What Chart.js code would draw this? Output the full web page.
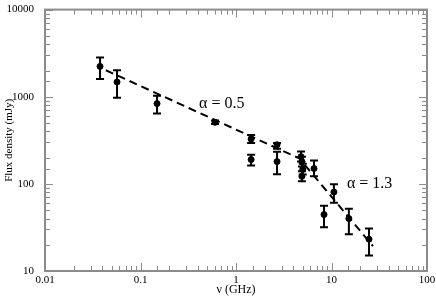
<!DOCTYPE html>
<html>
<head>
<meta charset="utf-8">
<script src="https://cdn.jsdelivr.net/npm/chart.js@4.4.1/dist/chart.umd.min.js"></script>
<style>
  body { margin: 0; background: #fff; }
  canvas { display: block; }
</style>
</head>
<body>
<canvas id="myChart" width="436" height="297"></canvas>
<script>
// measured points (GHz, mJy) with upper / lower error values
const freq  = [0.0377, 0.0568, 0.149, 0.603, 1.44, 1.44, 2.69, 2.69, 4.8, 4.9, 5.0, 4.9, 6.56, 10.6, 8.35, 15.2, 24.7];
const flux  = [2230, 1475, 834, 509, 327, 190, 281, 180, 205, 180, 147, 122, 150, 80.5, 44.4, 40, 23.2];
const fluxHi = [2820, 2015, 1026, 535, 363, 216, 295, 234, 235, 205, 170, 140, 185, 99, 56, 51.9, 30.8];
const fluxLo = [1600, 975, 643, 485, 295, 163, 253, 129, 180, 158, 128, 107, 122, 60.6, 31.7, 26.4, 15.1];

// broken power law fit (dashed)
const fitFreq = [0.0434, 4.6, 27.2];
const fitFlux = [2014, 196, 19.3];

// slope labels
const slopeText = ['\u03B1 = 0.5', '\u03B1 = 1.3'];
const slopeFreq = [0.41, 14.5];
const slopeFlux = [834, 99];

const serif = "'Liberation Serif', 'DejaVu Serif', serif";
const axisGray = '#8c8c8c';

function isDecade(v) {
    const l = Math.log10(v);
    return Math.abs(l - Math.round(l)) < 1e-6;
}

// error bars, tick marks on all four sides, slope labels
const extras = {
    id: 'extras',
    afterDatasetsDraw(chart) {
        const ctx = chart.ctx;
        const xs = chart.scales.x, ys = chart.scales.y;
        ctx.save();
        ctx.strokeStyle = '#000';
        ctx.lineWidth = 2;
        for (let i = 0; i < freq.length; i++) {
            const px = xs.getPixelForValue(freq[i]);
            const top = ys.getPixelForValue(fluxHi[i]);
            const bot = ys.getPixelForValue(fluxLo[i]);
            ctx.beginPath();
            ctx.moveTo(px, top); ctx.lineTo(px, bot);
            ctx.moveTo(px - 4, top); ctx.lineTo(px + 4, top);
            ctx.moveTo(px - 4, bot); ctx.lineTo(px + 4, bot);
            ctx.stroke();
        }
        ctx.fillStyle = '#000';
        ctx.font = '16px ' + serif;
        ctx.textBaseline = 'middle';
        ctx.textAlign = 'left';
        slopeText.forEach((t, i) => {
            ctx.fillText(t, xs.getPixelForValue(slopeFreq[i]), ys.getPixelForValue(slopeFlux[i]));
        });
        ctx.restore();
    },
    afterDraw(chart) {
        const ctx = chart.ctx;
        const a = chart.chartArea;
        const xs = chart.scales.x, ys = chart.scales.y;
        ctx.save();
        ctx.strokeStyle = axisGray;
        ctx.lineWidth = 1;
        ctx.beginPath();
        xs.ticks.forEach(t => {
            const px = Math.round(xs.getPixelForValue(t.value)) + 0.5;
            const len = isDecade(t.value) ? 8 : 5;
            ctx.moveTo(px, a.bottom); ctx.lineTo(px, a.bottom - len);
            ctx.moveTo(px, a.top); ctx.lineTo(px, a.top + len);
        });
        ys.ticks.forEach(t => {
            const py = Math.round(ys.getPixelForValue(t.value)) + 0.5;
            const len = isDecade(t.value) ? 8 : 5;
            ctx.moveTo(a.left, py); ctx.lineTo(a.left + len, py);
            ctx.moveTo(a.right, py); ctx.lineTo(a.right - len, py);
        });
        ctx.stroke();
        ctx.lineWidth = 2;
        ctx.strokeRect(a.left, a.top, a.right - a.left, a.bottom - a.top);
        ctx.restore();
    }
};

const ctx = document.getElementById('myChart').getContext('2d');
new Chart(ctx, {
    data: {
        datasets: [{
            type: 'line',
            data: fitFreq.map((f, i) => ({ x: f, y: fitFlux[i] })),
            borderColor: '#000',
            borderWidth: 2,
            borderDash: [8, 5],
            pointRadius: 0,
            fill: false,
            tension: 0
        }, {
            type: 'scatter',
            data: freq.map((f, i) => ({ x: f, y: flux[i] })),
            backgroundColor: '#000',
            borderColor: '#000',
            pointRadius: 3
        }]
    },
    options: {
        responsive: false,
        animation: false,
        layout: { padding: { top: 5, right: 9, left: 0, bottom: 0 } },
        plugins: {
            legend: { display: false },
            tooltip: { enabled: false }
        },
        scales: {
            x: {
                type: 'logarithmic',
                min: 0.01,
                max: 100,
                grid: { display: false },
                border: { display: false },
                afterFit(scale) { scale.height = 26; },
                ticks: {
                    autoSkip: false,
                    maxRotation: 0,
                    padding: -5,
                    color: '#000',
                    font: { family: serif, size: 11 },
                    callback: v => isDecade(v) ? String(Number(v.toPrecision(6))) : ''
                },
                title: {
                    display: true,
                    text: '\u03BD (GHz)',
                    color: '#000',
                    padding: 0,
                    font: { family: serif, size: 12 }
                }
            },
            y: {
                type: 'logarithmic',
                min: 10,
                max: 10000,
                grid: { display: false },
                border: { display: false },
                afterFit(scale) { scale.width = 45; },
                ticks: {
                    autoSkip: false,
                    padding: 3,
                    color: '#000',
                    font: { family: serif, size: 11 },
                    callback: v => isDecade(v) ? String(Number(v.toPrecision(6))) : ''
                },
                title: {
                    display: true,
                    text: 'Flux density (mJy)',
                    color: '#000',
                    padding: { top: 3, bottom: 0 },
                    font: { family: serif, size: 11 }
                }
            }
        }
    },
    plugins: [extras]
});
</script>
</body>
</html>
